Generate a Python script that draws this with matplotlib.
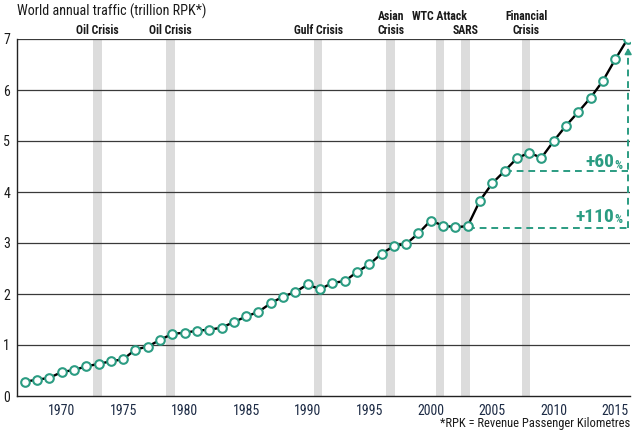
import matplotlib
matplotlib.use("Agg")
import matplotlib.pyplot as plt

plt.rcParams['font.family'] = ['Roboto Condensed', 'Archivo Narrow', 'DejaVu Sans']

years = list(range(1967, 2017))
rpk = [0.28, 0.32, 0.355, 0.47, 0.51, 0.58, 0.63, 0.68, 0.72, 0.91,
       0.97, 1.10, 1.22, 1.24, 1.28, 1.30, 1.34, 1.45, 1.56, 1.65,
       1.82, 1.95, 2.04, 2.19, 2.09, 2.22, 2.25, 2.43, 2.58, 2.79,
       2.94, 2.98, 3.19, 3.44, 3.34, 3.31, 3.33, 3.83, 4.17, 4.41,
       4.66, 4.77, 4.67, 5.00, 5.30, 5.57, 5.85, 6.18, 6.60, 7.00]

# (upper line, lower line) of each crisis label
crisis_top = ["", "", "", "Asian", "WTC Attack", "", "Financial"]
crisis_bottom = ["Oil Crisis", "Oil Crisis", "Gulf Crisis", "Crisis", "", "SARS", "Crisis"]
crisis_start = [1972.55, 1978.5, 1990.5, 1996.4, 2000.4, 2002.5, 2007.4]
crisis_width = 0.7

xticks = [1970, 1975, 1980, 1985, 1990, 1995, 2000, 2005, 2010, 2015]
yticks = [0, 1, 2, 3, 4, 5, 6, 7]

base_2003 = 2003
base_2006 = 2006
growth_labels = ["+110", "+60"]
growth_label_y = [3.5, 4.57]

TEAL = "#2b9c82"
NAVY = "#1d2b45"

fig = plt.figure(figsize=(6.33, 4.32), dpi=100)
ax = fig.add_axes([17/633, 36/432, 613/633, 357/432])
ax.set_xlim(1966.37, 2016.2)
ax.set_ylim(0, 7)

tr = ax.get_xaxis_transform()
for s, top, bot in zip(crisis_start, crisis_top, crisis_bottom):
    ax.axvspan(s, s + crisis_width, ymin=0, ymax=0.996, color="#dcdcdc", lw=0, zorder=0)
    xc = s + crisis_width / 2
    if top:
        ax.text(xc, 1 + 22/357, top, transform=tr, ha="center", va="center",
                fontsize=8.5, fontweight="bold", color="#1a1a1a")
    if bot:
        ax.text(xc, 1 + 9/357, bot, transform=tr, ha="center", va="center",
                fontsize=8.5, fontweight="bold", color="#1a1a1a")

for y in yticks[1:]:
    ax.axhline(y, color="#3a3a3a", lw=0.9, zorder=1)

ax.plot(years, rpk, color="black", lw=1.7, zorder=3)
ax.plot(years, rpk, ls="none", marker="o", ms=6.2, mfc="white", mec=TEAL, mew=1.5, zorder=4)

v03 = rpk[years.index(base_2003)]
v06 = rpk[years.index(base_2006)]
v_end = rpk[-1]
x_end = 2016.05
dash = (0, (3.5, 2.5))
ax.plot([base_2003, x_end], [v03 - 0.03, v03 - 0.03], color=TEAL, lw=1.4, ls=dash, zorder=2)
ax.plot([base_2006, x_end], [v06, v06], color=TEAL, lw=1.4, ls=dash, zorder=2)
ax.plot([x_end, x_end], [v03 - 0.03, v_end - 0.2], color=TEAL, lw=1.4, ls=dash, zorder=2)
ax.annotate("", xy=(x_end, v_end - 0.12), xytext=(x_end, v_end - 0.3),
            arrowprops=dict(arrowstyle="-|>,head_length=0.35,head_width=0.2", color=TEAL, lw=1.2),
            zorder=2)

for lab, yv in zip(growth_labels, growth_label_y):
    ax.annotate("%", xy=(2015.55, yv), xytext=(0, -1.5), textcoords="offset points",
                ha="right", va="center", fontsize=9, fontweight="bold", color=TEAL)
    ax.annotate(lab, xy=(2015.55, yv), xytext=(-5.5, 0.5), textcoords="offset points",
                ha="right", va="center", fontsize=14, fontweight="bold", color=TEAL)

ax.set_xticks(xticks)
ax.set_yticks(yticks)
ax.tick_params(axis="both", length=0, labelsize=10, colors=NAVY, pad=6)
ax.tick_params(axis="y", pad=5, colors="#1a1a1a")
for sp in ["top", "right"]:
    ax.spines[sp].set_visible(False)
for sp in ["left", "bottom"]:
    ax.spines[sp].set_color("#222222")
    ax.spines[sp].set_linewidth(1.0)

fig.text(17/633, 1 - 11/432, "World annual traffic (trillion RPK*)", ha="left", va="center",
         fontsize=10.2, color="#1a1a1a")
fig.text(630/633, 1 - 424/432, "*RPK = Revenue Passenger Kilometres", ha="right", va="center",
         fontsize=9, color="#1a1a1a")

fig.savefig("out.png", dpi=100)
